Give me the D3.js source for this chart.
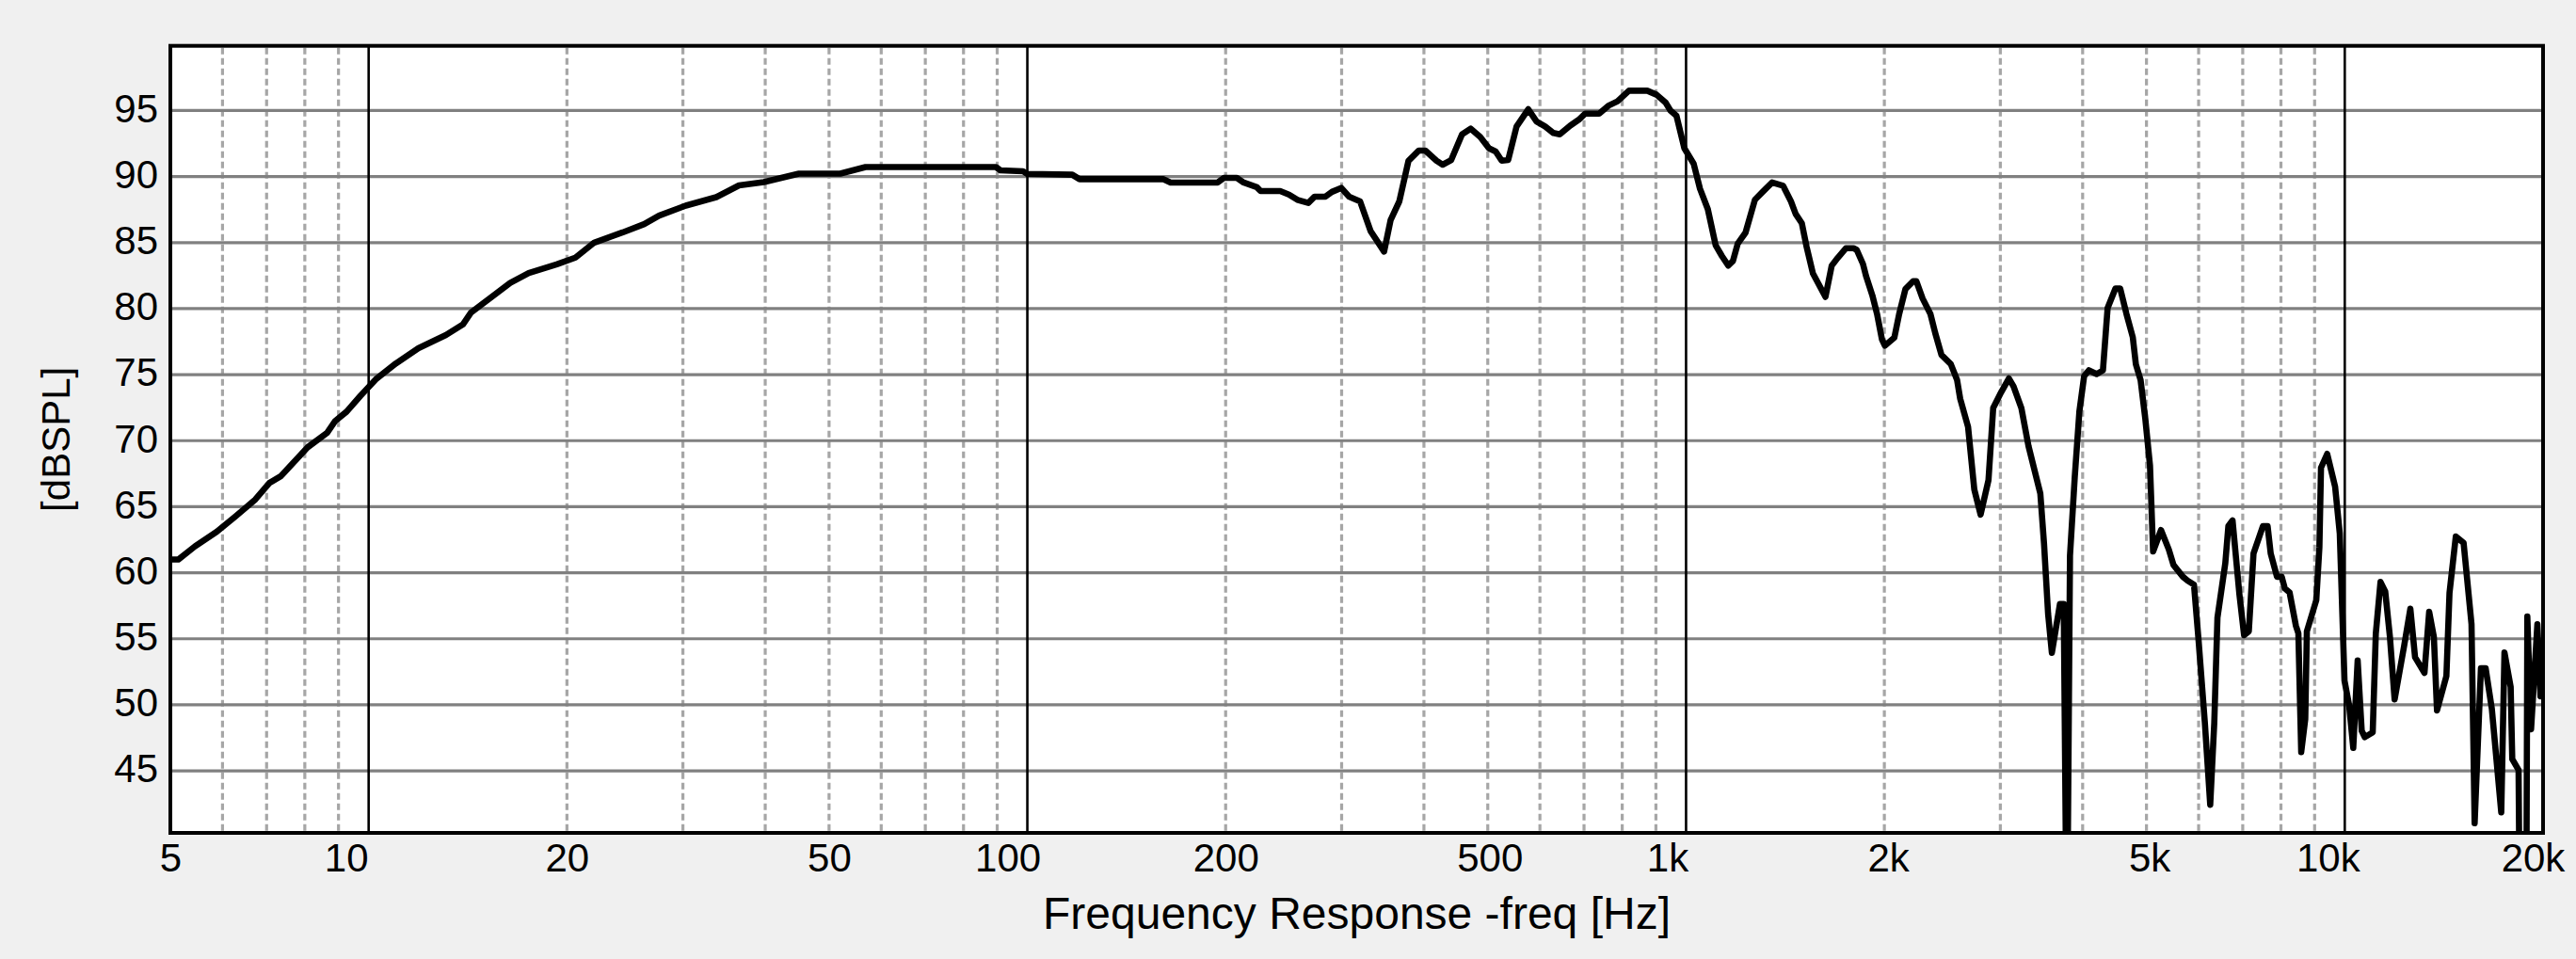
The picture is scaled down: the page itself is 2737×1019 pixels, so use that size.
<!DOCTYPE html>
<html>
<head>
<meta charset="utf-8">
<script src="https://cdn.jsdelivr.net/npm/d3@7"></script>
<style>
  html, body { margin: 0; padding: 0; background: #f0f0f0; }
  svg { display: block; }
  text { font-family: "Liberation Sans", Arial, Helvetica, sans-serif; fill: #000; }
</style>
</head>
<body>
<svg id="chart" width="2737" height="1019"></svg>
<script>
// ---------------- DATA ----------------
const freqHz = [
  5.0, 5.14, 5.45, 5.88, 6.29, 6.73, 7.07, 7.35, 8.08, 8.65, 8.9, 9.26, 9.72,
  10.28, 11.0, 11.9, 13.1, 13.9, 14.3, 15.3, 16.4, 17.5, 19.3, 20.6, 22.0, 24.3,
  26.2, 27.6, 30.3, 33.7, 36.5, 39.8, 45, 52, 56.8, 89.6, 91, 98.5,
  100, 117, 120, 161, 165, 194.5, 198.7, 208, 213, 223, 226, 242, 249.5, 257,
  267, 273, 283.5, 290, 299.6, 308, 320, 332, 348, 356, 367, 379, 393, 402,
  418, 427, 440, 457, 471, 487, 502, 514, 525, 537, 553, 576, 593, 611, 629,
  643, 667, 687, 703, 738, 762, 787, 819, 873, 902, 931, 947, 967,
  994, 1027, 1050, 1079, 1109, 1134, 1159, 1178, 1198, 1231, 1272, 1307, 1351,
  1404, 1443, 1467, 1499, 1524, 1558, 1628, 1664, 1700, 1748, 1796, 1816, 1856,
  1877, 1918, 1950, 1983, 2004, 2071, 2106, 2153, 2212, 2237, 2286, 2350, 2389,
  2442, 2523, 2579, 2607, 2680, 2739, 2800, 2878, 2926, 3007, 3091, 3142, 3229,
  3310, 3450, 3495, 3545, 3592, 3695, 3744, 3786, 3827, 3891, 3955, 4021, 4088,
  4201, 4294, 4365, 4486, 4561, 4662, 4766, 4818, 4898, 4980, 5062, 5117, 5261,
  5406, 5496, 5680, 5774, 5903, 6000, 6132, 6248, 6337, 6408, 6586, 6657, 6755,
  6919, 7033, 7150, 7269, 7512, 7636, 7719, 7891, 8022, 8110, 8245, 8428, 8503,
  8588, 8710, 8759, 9053, 9151, 9203, 9404, 9667, 9827, 9990, 10156, 10301,
  10461, 10610, 10725, 11026, 11146, 11331, 11519, 11710, 11904, 12303, 12577,
  12786, 13213, 13432, 13655, 13804, 14265, 14421, 14742, 15150, 15575, 15745,
  16096, 16363, 16722, 17281, 17476, 17859, 17959, 18359, 18420, 18870, 18930,
  19180, 19607, 19821
];
const splDb = [
  61.0, 61.0, 62.0, 63.1, 64.3, 65.55, 66.8, 67.3, 69.5, 70.6, 71.5, 72.2, 73.4,
  74.7, 75.85, 77.0, 78.0, 78.8, 79.7, 80.8, 81.95, 82.7, 83.35, 83.86, 85.0, 85.77,
  86.4, 87.04, 87.8, 88.44, 89.33, 89.58, 90.22, 90.22, 90.72, 90.72, 90.47, 90.4,
  90.2, 90.14, 89.8, 89.8, 89.55, 89.55, 89.9, 89.9, 89.55, 89.2, 88.9, 88.9, 88.64, 88.24,
  88.0, 88.48, 88.48, 88.84, 89.14, 88.48, 88.12, 85.87, 84.32, 86.7, 88.12, 91.2, 91.97, 91.97,
  91.2, 90.9, 91.25, 93.2, 93.63, 93.0, 92.15, 91.9, 91.2, 91.25, 93.8, 95.1, 94.17, 93.8, 93.3,
  93.2, 93.86, 94.3, 94.77, 94.77, 95.36, 95.7, 96.5, 96.5, 96.2, 95.6, 95.0, 94.6,
  92.15, 90.97, 89.07, 87.53, 84.8, 83.97, 83.26, 83.6, 84.92, 85.75, 88.24, 88.84, 89.55,
  89.3, 88.12, 87.17, 86.46, 84.68, 82.67, 80.89, 83.26, 83.86, 84.57, 84.57, 84.45, 83.38,
  82.43, 81.0, 79.58, 77.68, 77.2, 77.8, 79.58, 81.48, 82.07, 82.07, 80.77, 79.58, 78.16,
  76.5, 75.8, 74.6, 73.18, 71.04, 66.3, 64.4, 67.0, 72.47, 73.65, 74.72, 74.1, 72.47,
  69.6, 66.0, 62.2, 56.9, 53.94, 57.63, 57.63, 30.0, 61.3, 67.22, 72.23, 74.89, 75.33,
  75.04, 75.33, 80.05, 81.53, 81.53, 79.6, 77.84, 75.78, 74.6, 71.64, 68.1, 61.61, 63.23,
  61.76, 60.58, 59.69, 59.4, 59.1, 54.82, 48.63, 42.43, 48.63, 56.6, 60.72, 63.53, 63.97,
  58.37, 55.27, 55.56, 61.46, 63.53, 63.53, 61.46, 59.69, 59.69, 58.81, 58.51, 56.0, 55.41,
  46.42, 48.92, 55.56, 57.93, 61.9, 67.95, 69.0, 66.53, 62.97, 51.83, 49.93, 46.73,
  53.36, 48.03, 47.55, 47.91, 55.38, 59.3, 58.59, 55.14, 50.4, 54.43, 57.28,
  53.6, 52.42, 57.04, 55.14, 49.57, 52.18, 58.47, 62.74, 62.26, 56.1, 41.03,
  52.77, 52.77, 49.69, 41.86, 53.96, 51.35, 45.89, 45.07, 36.0, 36.0, 56.68,
  48.15, 56.1, 50.64
];
const yTickValues = [45, 50, 55, 60, 65, 70, 75, 80, 85, 90, 95];
const xTickValues = [5, 10, 20, 50, 100, 200, 500, 1000, 2000, 5000, 10000, 20000];
const xTickLabels = ["5", "10", "20", "50", "100", "200", "500", "1k", "2k", "5k", "10k", "20k"];
const decadeLines = [10, 100, 1000, 10000];
const minorLines = [6, 7, 8, 9, 20, 30, 40, 50, 60, 70, 80, 90,
  200, 300, 400, 500, 600, 700, 800, 900,
  2000, 3000, 4000, 5000, 6000, 7000, 8000, 9000];
const xAxisTitle = "Frequency Response -freq [Hz]";
const yAxisTitle = "[dBSPL]";

// ---------------- LAYOUT ----------------
const L = 181, R = 2702, T = 48.7, B = 885;
const labelShift = { "10": -24, "100": -21, "1k": -20, "10k": -18, "20k": -11, "2k": 4, "5k": 3, "500": 2 };

const svg = d3.select("#chart");
const x = d3.scaleLog().domain([5, 20000]).range([L, R]);
const y = d3.scaleLinear().domain([40.3, 99.9]).range([B, T]);

svg.append("rect").attr("width", 2737).attr("height", 1019).attr("fill", "#f0f0f0");
svg.append("rect").attr("x", L).attr("y", T).attr("width", R - L).attr("height", B - T).attr("fill", "#ffffff");

// minor dashed verticals
svg.append("g").selectAll("line").data(minorLines).join("line")
  .attr("x1", d => x(d)).attr("x2", d => x(d))
  .attr("y1", T + 2).attr("y2", B)
  .attr("stroke", "#a6a6a6").attr("stroke-width", 3.2)
  .attr("stroke-dasharray", "7,4");

// horizontal gridlines
svg.append("g").selectAll("line").data(yTickValues).join("line")
  .attr("x1", L).attr("x2", R)
  .attr("y1", d => y(d)).attr("y2", d => y(d))
  .attr("stroke", "#808080").attr("stroke-width", 3.2);

// decade lines
svg.append("g").selectAll("line").data(decadeLines).join("line")
  .attr("x1", d => x(d)).attr("x2", d => x(d))
  .attr("y1", T).attr("y2", B)
  .attr("stroke", "#000").attr("stroke-width", 2.6);

// curve
svg.append("clipPath").attr("id", "plotclip")
  .append("rect").attr("x", L).attr("y", T).attr("width", R - L).attr("height", B - T);

const pts = freqHz.map((f, i) => [f, splDb[i]]);
const line = d3.line().x(d => x(d[0])).y(d => y(d[1]));
svg.append("path")
  .attr("clip-path", "url(#plotclip)")
  .attr("d", line(pts))
  .attr("fill", "none")
  .attr("stroke", "#000")
  .attr("stroke-width", 6.6)
  .attr("stroke-linejoin", "round")
  .attr("stroke-linecap", "round");

// frame
svg.append("rect").attr("x", L).attr("y", T).attr("width", R - L).attr("height", B - T)
  .attr("fill", "none").attr("stroke", "#000").attr("stroke-width", 4);

// y axis
const yAxis = svg.append("g").attr("transform", `translate(${L},0)`)
  .call(d3.axisLeft(y).tickValues(yTickValues).tickSize(0).tickPadding(13).tickFormat(d3.format("d")));
yAxis.select(".domain").remove();
yAxis.selectAll("text")
  .attr("dy", "0.28em")
  .style("font-family", '"Liberation Sans", Arial, sans-serif')
  .style("font-size", "42px")
  .attr("fill", "#000");

// x axis
const xAxis = svg.append("g").attr("transform", `translate(0,${B})`)
  .call(d3.axisBottom(x).tickValues(xTickValues).tickSize(0).tickPadding(11)
    .tickFormat((d, i) => xTickLabels[i]));
xAxis.select(".domain").remove();
xAxis.selectAll("text")
  .style("font-family", '"Liberation Sans", Arial, sans-serif')
  .style("font-size", "42px")
  .attr("fill", "#000")
  .attr("dx", function () { const t = d3.select(this).text(); return labelShift[t] || 0; });

// titles
svg.append("text")
  .attr("x", (L + R) / 2).attr("y", 986.5)
  .attr("text-anchor", "middle")
  .style("font-size", "48px")
  .text(xAxisTitle);

svg.append("text")
  .attr("transform", `translate(73.5,${(T + B) / 2}) rotate(-90)`)
  .attr("text-anchor", "middle")
  .style("font-size", "42px")
  .text(yAxisTitle);
</script>
</body>
</html>
